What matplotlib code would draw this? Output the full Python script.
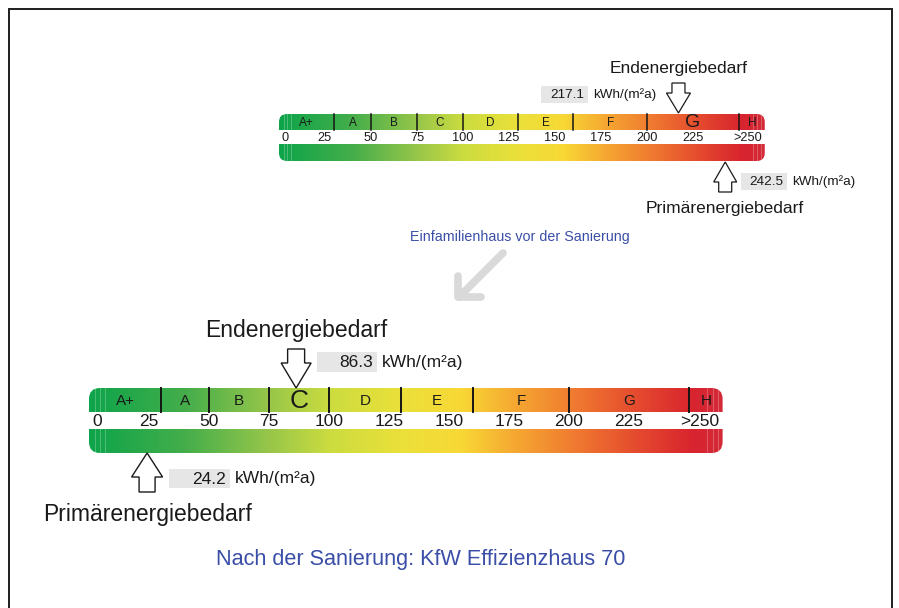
import numpy as np
import matplotlib.pyplot as plt
from matplotlib.colors import LinearSegmentedColormap
from matplotlib.patches import FancyBboxPatch, Rectangle, Polygon

plt.rcParams['font.family'] = ['Liberation Sans', 'DejaVu Sans']

# energy efficiency classes, kWh/(m²a)
class_names = ["A+", "A", "B", "C", "D", "E", "F", "G", "H"]
class_edges = [0, 30, 50, 75, 100, 130, 160, 200, 250, 264]
tick_values = [0, 25, 50, 75, 100, 125, 150, 175, 200, 225, 250]
tick_labels = ["0", "25", "50", "75", "100", "125", "150", "175", "200", "225", ">250"]

# house before / after renovation
end_before = 217.1
prim_before = 242.5
end_after = 86.3
prim_after = 24.2

label_end = "Endenergiebedarf"
label_prim = "Primärenergiebedarf"
unit = "kWh/(m²a)"
title_before = "Einfamilienhaus vor der Sanierung"
title_after = "Nach der Sanierung: KfW Effizienzhaus 70"

grad_stops = [(0, "#0ea44b"), (40, "#45ae4a"), (75, "#98c64a"), (100, "#cbdc3f"),
              (130, "#ebe03a"), (155, "#f8d835"), (178, "#f5a732"), (205, "#ef7630"),
              (230, "#e4482e"), (252, "#d8242f"), (264, "#d42a38")]
cmap = LinearSegmentedColormap.from_list(
    "energy", [(v / class_edges[-1], c) for v, c in grad_stops])

W, H = 899, 608
fig = plt.figure(figsize=(W / 100, H / 100), dpi=100)
bg = fig.add_axes([0, 0, 1, 1])
bg.set_xlim(0, W)
bg.set_ylim(H, 0)
bg.axis('off')

# frame
bg.plot([8.5, 8.5, 891.5, 891.5], [H + 5, 8.5, 8.5, H + 5], color='#1e1e1e',
        lw=1.4, solid_joinstyle='miter', clip_on=False)


def draw_scale(g, end_val, prim_val):
    x0, ppu = g['x0'], g['ppu']
    ax = fig.add_axes([0, 0, 1, 1])
    ax.patch.set_alpha(0)
    vmax = class_edges[-1]
    top, gap_t, gap_b, bot = g['bands']

    # colour bar with rounded ends
    im = ax.imshow(np.linspace(0, vmax, 800)[None, :], cmap=cmap, aspect='auto',
                   extent=[0, vmax, bot, top], interpolation='bilinear')
    rb = FancyBboxPatch((0, top), vmax, bot - top,
                        boxstyle=f"round,pad=0,rounding_size={g['r'] / ppu}",
                        mutation_aspect=ppu, fc='none', ec='none')
    ax.add_patch(rb)
    im.set_clip_path(rb)
    for v in [2.5, 4.5, 6.5, 257.5, 259.8, 262]:
        ax.plot([v, v], [top, bot], color='white', lw=0.5, alpha=0.35)
    ax.add_patch(Rectangle((-5, gap_t), vmax + 10, gap_b - gap_t, fc='white', ec='none'))

    # class boundaries and names
    for e in class_edges[1:-1]:
        ax.plot([e, e], [top, gap_t], color='#151515', lw=g['lw'])
    active = np.searchsorted(class_edges, end_val, side='right') - 1
    for i, name in enumerate(class_names):
        xc = (class_edges[i] + class_edges[i + 1]) / 2
        big = i == active
        ax.text(xc, (top + gap_t) / 2 + (0.5 if big else 0.8), name,
                fontsize=g['fs_big'] if big else g['fs_cls'],
                ha='center', va='center', color='#1a1a1a')

    # scale numbers
    pos = np.array(tick_values, float)
    pos[0] += 3.5
    pos[-1] += 4.5
    for p, t in zip(pos, tick_labels):
        ax.text(p, (gap_t + gap_b) / 2 + 1, t, fontsize=g['fs_num'],
                ha='center', va='center', color='#1a1a1a')

    # markers
    for val, arr, box, ty, lab in [(end_val, g['end_arrow'], g['end_box'], g['end_ty'], label_end),
                                   (prim_val, g['prim_arrow'], g['prim_box'], g['prim_ty'], label_prim)]:
        tail, base, tip, sw, hw = arr
        dx = np.array([-sw / 2, sw / 2, sw / 2, hw / 2, 0, -hw / 2, -sw / 2]) / ppu
        ys = [tail, tail, base, base, tip, base, base]
        ax.add_patch(Polygon(np.column_stack([val + dx, ys]), closed=True,
                             fc='white', ec='#1a1a1a', lw=g['lw_arrow'], joinstyle='miter'))
        bl, br, bt, bb = box
        ax.add_patch(Rectangle((val + bl / ppu, bt), (br - bl) / ppu, bb - bt,
                               fc='#e6e6e6', ec='none'))
        yc = (bt + bb) / 2 + 0.5
        ax.text(val + (br - 4) / ppu, yc, f"{val:.1f}", fontsize=g['fs_val'],
                ha='right', va='center', color='#1a1a1a')
        ax.text(val + (br + 5) / ppu, yc, unit, fontsize=g['fs_val'],
                ha='left', va='center', color='#1a1a1a')
        ax.text(val, ty, lab, fontsize=g['fs_lbl'], ha='center', va='center',
                color='#1a1a1a')

    ax.set_xlim(-x0 / ppu, (W - x0) / ppu)
    ax.set_ylim(H, 0)
    ax.axis('off')


top_geo = dict(x0=279, ppu=1.84, bands=(114, 130, 144, 161), r=8, lw=1.1,
               fs_cls=8.5, fs_big=14, fs_num=9.2, fs_lbl=12.5, fs_val=9.7, lw_arrow=0.9,
               end_arrow=(83, 93, 113, 13, 24), prim_arrow=(192, 182, 162, 13, 23),
               end_box=(-137.5, -90.5, 85.5, 102.5), prim_box=(16, 62, 173, 190),
               end_ty=68, prim_ty=208)
bot_geo = dict(x0=89, ppu=2.4, bands=(388, 412, 429, 453), r=11, lw=1.4,
               fs_cls=11, fs_big=19, fs_num=12.5, fs_lbl=16.5, fs_val=12.5, lw_arrow=1.0,
               end_arrow=(349, 363, 388, 17, 30), prim_arrow=(492, 477, 453, 16, 31),
               end_box=(21, 81, 352, 372), prim_box=(22, 83, 469, 488),
               end_ty=330, prim_ty=514)

draw_scale(top_geo, end_before, prim_before)
draw_scale(bot_geo, end_after, prim_after)

# transition caption and arrow
blue = '#3a4ea8'
bg.text(520, 237, title_before, fontsize=10.3, ha='center', va='center', color=blue)
bg.plot([503, 459], [253, 297], color='#d9d9d9', lw=5.5, solid_capstyle='round')
bg.plot([458, 458, 481], [276, 297, 297], color='#d9d9d9', lw=5.5,
        solid_capstyle='round', solid_joinstyle='round')
bg.text(421, 560, title_after, fontsize=15.6, ha='center', va='center', color=blue)

fig.savefig('out.png', dpi=100)
